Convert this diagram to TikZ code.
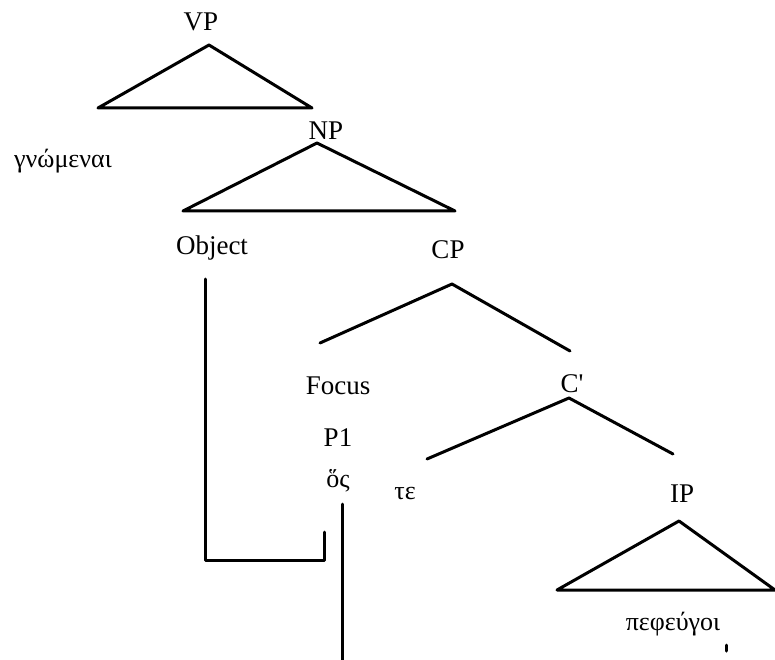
\documentclass[tikz,border=0pt]{standalone}
\usepackage{fontspec}
\setmainfont{Liberation Serif}
\begin{document}
\begin{tikzpicture}[x=1pt,y=-1pt,line width=3pt, line join=round, line cap=round, font=\fontsize{27}{32}\selectfont]
                \def\gk{\fontsize{26}{30}\selectfont}
                \useasboundingbox (0,0) rectangle (775,660);
                % category labels
                \node (vp) at (201,22) {VP};
                \node (np) at (326,131) {NP};
                \node (obj) at (212,248) {Object};
                \node (cp) at (448,250) {CP};
                \node (foc) at (338,386) {Focus};
                \node (cbar) at (572,384) {C\textquotesingle};
                \node (pone) at (338,438) {P1};
                \node (ip) at (682,494) {IP};
                % greek words
                \node (gnw) at (63,161) {\gk γνώμεναι};
                \node (hos) at (338,481) {\gk ὅς};
                \node (te) at (405,493) {\gk τε};
                \node (pef) at (673,624) {\gk πεφεύγοι};
                % triangles
                \draw (209,45) -- (98,108) -- (312,108) -- cycle;
                \draw (317,143) -- (183,211) -- (455,211) -- cycle;
                \draw (679,521) -- (557,590) -- (775,590) -- cycle;
                % branches
                \coordinate (cptop) at (452,284);
                \coordinate (cpl) at (320,343);
                \coordinate (cpr) at (570,351);
                \draw (cpl) -- (cptop) -- (cpr);
                \coordinate (cbtop) at (569,398);
                \coordinate (cbl) at (427,459);
                \coordinate (cbr) at (673,454);
                \draw (cbl) -- (cbtop) -- (cbr);
                % movement lines
                \coordinate (o1) at (205,279);
                \coordinate (o2) at (205,560);
                \coordinate (o3) at (324,560);
                \coordinate (o4) at (324,532);
                \draw (o1) -- (o2) -- (o3) -- (o4);
                \coordinate (h1) at (342,504);
                \coordinate (h2) at (342,662);
                \draw (h1) -- (h2);
                \coordinate (t1) at (726,645);
                \coordinate (t2) at (726,651);
                \draw (t1) -- (t2);
            \end{tikzpicture}
\end{document}
